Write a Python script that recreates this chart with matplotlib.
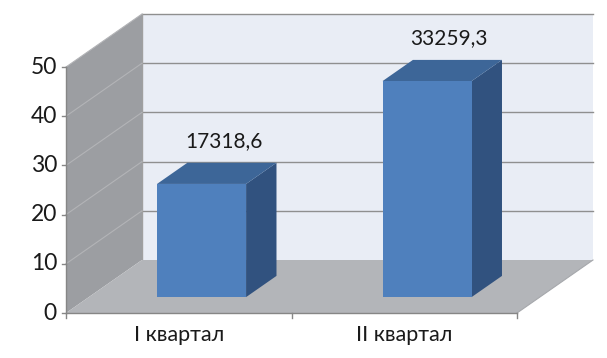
import matplotlib
matplotlib.use("Agg")
import matplotlib.pyplot as plt
from matplotlib.patches import Polygon

# data
categories = ["I квартал", "II квартал"]
bar_heights = [23.0, 43.9]          # height on the 0..50 axis
bar_labels = ["17318,6", "33259,3"]
y_ticks = [0, 10, 20, 30, 40, 50]

plt.rcParams['font.family'] = ['Lato', 'DejaVu Sans']

fig = plt.figure(figsize=(6.07, 3.58), dpi=100)
ax = fig.add_axes([0, 0, 1, 1])
# 1 category = 225.5 px, 10 units = 49.2 px
ax.set_xlim(-66 / 225.5, (607 - 66) / 225.5)
ax.set_ylim(-(358 - 313) / 4.92, 313 / 4.92)
ax.axis('off')

DX = 76 / 225.5    # depth offset
DY = 53 / 4.92
YMAX = 50
NCAT = len(categories)


def p(x, v, d):
    return (x + d * DX, v + d * DY)


def poly(pts, fc, ec='none', lw=0, z=1):
    ax.add_patch(Polygon([p(*q) for q in pts], closed=True, facecolor=fc,
                         edgecolor=ec, linewidth=lw, zorder=z))


# back wall
poly([(0, 0, 1), (NCAT, 0, 1), (NCAT, YMAX, 1), (0, YMAX, 1)], '#e9edf5', z=1)
for v in y_ticks[1:]:
    a, b = p(0, v, 1), p(NCAT, v, 1)
    ax.plot([a[0], b[0]], [a[1], b[1]], color='#8f8f8f', lw=1, zorder=2)
a, b = p(0, 0, 1), p(0, YMAX, 1)
ax.plot([a[0], b[0]], [a[1], b[1]], color='#a0a0a0', lw=1, zorder=2)

# side wall
poly([(0, 0, 0), (0, 0, 1), (0, YMAX, 1), (0, YMAX, 0)], '#9c9ea2', z=3)
for v in y_ticks[1:]:
    a, b = p(0, v, 0), p(0, v, 1)
    ax.plot([a[0], b[0]], [a[1], b[1]], color='#b3b4b7', lw=0.8, zorder=4)

# floor
poly([(0, 0, 0), (NCAT, 0, 0), (NCAT, 0, 1), (0, 0, 1)], '#b3b5b9', z=3)
a, b = p(NCAT, 0, 0), p(NCAT, 0, 1)
ax.plot([a[0], b[0]], [a[1], b[1]], color='#a6a8ac', lw=0.8, zorder=4)

# bars
w = 0.395
d0, d1 = 0.3, 0.7
for i, (h, lab) in enumerate(zip(bar_heights, bar_labels)):
    x0, x1 = i + 0.5 - w / 2, i + 0.5 + w / 2
    poly([(x1, 0, d0), (x1, 0, d1), (x1, h, d1), (x1, h, d0)], '#31527f', z=5)
    poly([(x0, h, d0), (x1, h, d0), (x1, h, d1), (x0, h, d1)], '#3d6698', z=5)
    poly([(x0, 0, d0), (x1, 0, d0), (x1, h, d0), (x0, h, d0)], '#4f80bd', z=6)
    tx, ty = p(i + 0.5, h, 0.5)
    ax.text(tx + 0.03, ty + 6.5, lab, ha='center', va='center', fontsize=15,
            color='#1a1a1a', zorder=7)

# front axes
ax.plot([0, 0], [0, YMAX], color='#868686', lw=1, zorder=7)
ax.plot([0, NCAT], [0, 0], color='#868686', lw=1, zorder=7)
for v in y_ticks:
    ax.plot([-4 / 225.5, 0], [v, v], color='#868686', lw=1, zorder=7)
    ax.text(-9 / 225.5, v, str(v), ha='right', va='center', fontsize=16.5,
            color='#1a1a1a')
for i in range(NCAT + 1):
    ax.plot([i, i], [0, -5 / 4.92], color='#868686', lw=1, zorder=7)
for i, c in enumerate(categories):
    ax.text(i + 0.5, -22 / 4.92, c, ha='center', va='center', fontsize=15.5,
            color='#1a1a1a')

fig.savefig('out.png', dpi=100, facecolor='white')
